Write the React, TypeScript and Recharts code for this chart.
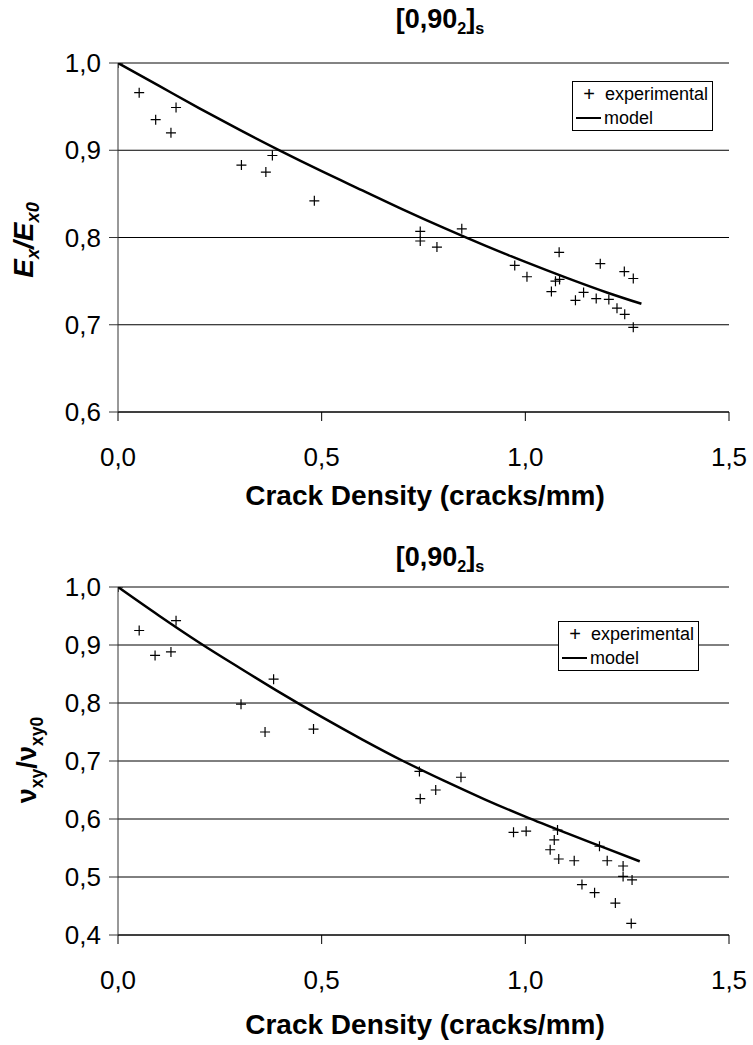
import React from "react";
import {
  ComposedChart,
  Scatter,
  Line,
  XAxis,
  YAxis,
  CartesianGrid,
  ReferenceLine,
} from "recharts";

// top chart: Ex/Ex0
const densityE = [0, 0.052, 0.0925, 0.13, 0.1425, 0.303, 0.363, 0.379, 0.482, 0.742, 0.742, 0.783, 0.844, 0.974, 1.004, 1.064, 1.074, 1.084, 1.083, 1.123, 1.143, 1.174, 1.184, 1.205, 1.225, 1.243, 1.244, 1.265, 1.265];
const stiffnessE = [1.0, 0.966, 0.935, 0.92, 0.949, 0.883, 0.875, 0.894, 0.842, 0.807, 0.796, 0.789, 0.81, 0.768, 0.755, 0.738, 0.75, 0.752, 0.783, 0.728, 0.737, 0.73, 0.77, 0.729, 0.719, 0.761, 0.712, 0.753, 0.697];
const modelDensityE = [0, 0.1, 0.2, 0.3, 0.4, 0.5, 0.6, 0.7, 0.8, 0.9, 1.0, 1.1, 1.2, 1.285];
const modelE = [1.0, 0.974, 0.948, 0.923, 0.899, 0.876, 0.854, 0.832, 0.811, 0.791, 0.772, 0.754, 0.737, 0.724];

// bottom chart: nuxy/nuxy0
const densityNu = [0, 0.052, 0.091, 0.13, 0.1425, 0.302, 0.361, 0.382, 0.48, 0.74, 0.742, 0.78, 0.842, 0.971, 1.002, 1.061, 1.071, 1.079, 1.082, 1.12, 1.139, 1.17, 1.182, 1.201, 1.221, 1.24, 1.24, 1.26, 1.262];
const ratioNu = [1.0, 0.925, 0.882, 0.888, 0.942, 0.798, 0.75, 0.841, 0.755, 0.682, 0.635, 0.65, 0.672, 0.577, 0.579, 0.547, 0.564, 0.581, 0.531, 0.528, 0.487, 0.473, 0.553, 0.528, 0.455, 0.519, 0.501, 0.42, 0.495];
const modelDensityNu = [0, 0.1, 0.2, 0.3, 0.4, 0.5, 0.6, 0.7, 0.8, 0.9, 1.0, 1.1, 1.2, 1.281];
const modelNu = [1.0, 0.951, 0.904, 0.86, 0.817, 0.776, 0.737, 0.7, 0.666, 0.634, 0.604, 0.576, 0.549, 0.527];

const xTicks = [0, 0.5, 1.0, 1.5];
const yTicksE = [0.6, 0.7, 0.8, 0.9, 1.0];
const yTicksNu = [0.4, 0.5, 0.6, 0.7, 0.8, 0.9, 1.0];

const FONT = "'Liberation Sans', Arial, sans-serif";
const fmt = (v: number) => v.toFixed(1).replace(".", ",");

const XTick = (p: any) => (
  <text x={p.x} y={p.y + 45} textAnchor="middle" fontSize={26} fontFamily={FONT} fill="#000">
    {fmt(p.payload.value)}
  </text>
);

const YTick = (p: any) => (
  <text x={p.x - 8} y={p.y + 9} textAnchor="end" fontSize={26} fontFamily={FONT} fill="#000">
    {fmt(p.payload.value)}
  </text>
);

const Cross = (p: any) => {
  const { cx, cy } = p;
  return (
    <path
      d={`M${cx - 5},${cy}H${cx + 5}M${cx},${cy - 5}V${cy + 5}`}
      stroke="#000"
      strokeWidth={1.2}
      fill="none"
    />
  );
};

const zip = (xs: number[], ys: number[]) => xs.map((x, i) => ({ x, y: ys[i] }));

function Panel(props: {
  height: number;
  top: number;
  bottom: number;
  domain: [number, number];
  yTicks: number[];
  points: { x: number; y: number }[];
  model: { x: number; y: number }[];
}) {
  return (
    <ComposedChart
      width={753}
      height={props.height}
      margin={{ top: props.top, right: 24, bottom: props.bottom, left: 0 }}
    >
      <CartesianGrid vertical={false} stroke="#000" />
      <XAxis
        type="number"
        dataKey="x"
        domain={[0, 1.5]}
        ticks={xTicks}
        tickSize={9}
        tickMargin={0}
        height={60}
        tick={XTick}
        stroke="#000"
        allowDataOverflow
      />
      <YAxis
        type="number"
        dataKey="y"
        domain={props.domain}
        ticks={props.yTicks}
        tickSize={9}
        tickMargin={0}
        width={118}
        tick={YTick}
        stroke="#333"
        allowDataOverflow
      />
      <YAxis
        yAxisId="border"
        orientation="right"
        type="number"
        domain={props.domain}
        width={0}
        tick={false}
        tickLine={false}
        stroke="#888"
        strokeWidth={1.5}
        allowDataOverflow
      />
      <ReferenceLine y={props.domain[1]} stroke="#888" ifOverflow="visible" />
      <Line
        data={props.model}
        dataKey="y"
        type="monotone"
        dot={false}
        stroke="#000"
        strokeWidth={2.5}
        isAnimationActive={false}
      />
      <Scatter data={props.points} dataKey="y" shape={Cross} isAnimationActive={false} />
    </ComposedChart>
  );
}

const abs = (x: number, y: number, extra: React.CSSProperties = {}): React.CSSProperties => ({
  position: "absolute",
  left: x,
  top: y,
  transform: "translate(-50%, -50%)",
  fontFamily: FONT,
  whiteSpace: "nowrap",
  color: "#000",
  ...extra,
});

function LegendBox({ x, y }: { x: number; y: number }) {
  return (
    <div
      style={{
        position: "absolute",
        left: x,
        top: y,
        width: 139,
        height: 48,
        border: "1px solid #000",
        background: "#fff",
        fontFamily: FONT,
        fontSize: 18,
        lineHeight: "24px",
      }}
    >
      <div style={{ display: "flex", alignItems: "center", height: 24 }}>
        <span style={{ width: 32, textAlign: "center", fontSize: 20 }}>+</span>
        <span>experimental</span>
      </div>
      <div style={{ display: "flex", alignItems: "center", height: 24 }}>
        <span style={{ width: 25, height: 2.5, background: "#000", marginLeft: 3, marginRight: 3 }} />
        <span>model</span>
      </div>
    </div>
  );
}

export default function App() {
  const title = (
    <>
      [0,90<sub style={{ fontSize: "0.6em" }}>2</sub>]<sub style={{ fontSize: "0.6em" }}>s</sub>
    </>
  );
  return (
    <div style={{ position: "absolute", left: 0, top: 0, width: 753, height: 1045, background: "#fff" }}>
      <div style={{ position: "absolute", left: 0, top: 0 }}>
        <Panel
          height={520}
          top={63}
          bottom={48}
          domain={[0.6, 1.0]}
          yTicks={yTicksE}
          points={zip(densityE, stiffnessE)}
          model={zip(modelDensityE, modelE)}
        />
      </div>
      <div style={{ position: "absolute", left: 0, top: 520 }}>
        <Panel
          height={525}
          top={67}
          bottom={50}
          domain={[0.4, 1.0]}
          yTicks={yTicksNu}
          points={zip(densityNu, ratioNu)}
          model={zip(modelDensityNu, modelNu)}
        />
      </div>

      <div style={abs(440, 21, { fontSize: 27, fontWeight: "bold" })}>{title}</div>
      <div style={abs(425, 496, { fontSize: 28, fontWeight: "bold" })}>Crack Density (cracks/mm)</div>
      <div style={abs(26, 240, { fontSize: 28, fontWeight: "bold", fontStyle: "italic", transform: "translate(-50%, -50%) rotate(-90deg)" })}>
        E<sub style={{ fontSize: "0.65em" }}>x</sub>/E<sub style={{ fontSize: "0.65em" }}>x0</sub>
      </div>
      <LegendBox x={572} y={81} />

      <div style={abs(440, 559, { fontSize: 27, fontWeight: "bold" })}>{title}</div>
      <div style={abs(425, 1025, { fontSize: 28, fontWeight: "bold" })}>Crack Density (cracks/mm)</div>
      <div style={abs(30, 760, { fontSize: 27, fontWeight: "bold", transform: "translate(-50%, -50%) rotate(-90deg)" })}>
        ν<sub style={{ fontSize: "0.65em" }}>xy</sub>/ν<sub style={{ fontSize: "0.65em" }}>xy0</sub>
      </div>
      <LegendBox x={558} y={621} />
    </div>
  );
}
